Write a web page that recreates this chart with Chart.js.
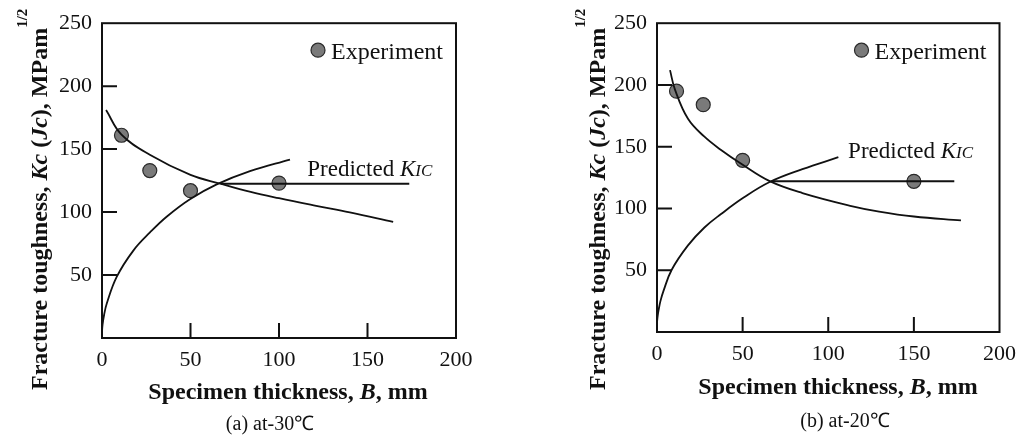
<!DOCTYPE html>
<html>
<head>
<meta charset="utf-8">
<script src="https://cdn.jsdelivr.net/npm/chart.js@4.4.1/dist/chart.umd.min.js"></script>
<style>
  body { margin: 0; background: #fff; }
  #wrap { position: relative; width: 1025px; height: 440px; }
  canvas { position: absolute; top: 0; }
</style>
</head>
<body>
<div id="wrap">
  <canvas id="chartA" width="512" height="440" style="left:0"></canvas>
  <canvas id="chartB" width="485" height="440" style="left:540px"></canvas>
</div>
<script>
const xTicks = [0, 50, 100, 150, 200];
const yTicks = [50, 100, 150, 200, 250];
const xMarks = [50, 100, 150];
const yMarks = [50, 100, 150, 200];

// (a) at -30C
const expA_B = [11, 27, 50, 100];
const expA_K = [161, 133, 117, 123];
const kcA_B = [2.3, 11, 27, 50, 67, 84, 100, 121, 140, 164.5];
const kcA_K = [181, 161.5, 145.5, 129.5, 122.5, 116, 111, 105, 99.8, 92.3];
const jcA_B = [0, 0.3, 1.2, 2.7, 8.3, 17.7, 27.1, 36.5, 49.7, 64.8, 83.6, 106.2];
const jcA_K = [5, 10.5, 18.5, 27.4, 48.5, 69.4, 83.8, 96.3, 110.2, 122, 132.5, 141.7];
const kicA_B = [67, 173.6];
const kicA_K = [122.5, 122.5];

// (b) at -20C
const expB_B = [11.4, 27, 50, 150];
const expB_K = [195, 184, 139, 122];
const kcB_B = [7.6, 10.5, 18.1, 27.7, 37.2, 49.6, 65.8, 84.9, 113.5, 129.7, 150, 177.5];
const kcB_K = [212, 196.2, 172.6, 158.1, 147.6, 135.8, 122.1, 112.5, 102, 97.5, 93.5, 90.3];
const jcB_B = [0, 0.4, 0.9, 2, 3.8, 8.6, 18.1, 27.7, 37.4, 50.6, 65.8, 84.9, 105.9];
const jcB_K = [8, 13, 17.5, 25, 33.3, 50.4, 70.1, 84.6, 95.5, 108.8, 121.4, 131.8, 141.5];
const kicB_B = [66.8, 173.6];
const kicB_K = [122, 122];

const SERIF = "'Liberation Serif', 'Times New Roman', serif";
const pts = (xs, ys) => xs.map((x, i) => ({ x, y: ys[i] }));

function drawRuns(ctx, runs, x, y) {
  let cx = x;
  runs.forEach(r => {
    ctx.font = r.font;
    ctx.fillText(r.text, cx, y + (r.dy || 0));
    cx += ctx.measureText(r.text).width;
  });
  return cx;
}

function runsWidth(ctx, runs) {
  let w = 0;
  runs.forEach(r => { ctx.font = r.font; w += ctx.measureText(r.text).width; });
  return w;
}

function dot(ctx, x, y) {
  ctx.beginPath();
  ctx.arc(x, y, 7, 0, Math.PI * 2);
  ctx.fillStyle = '#7a7a7a';
  ctx.fill();
  ctx.lineWidth = 1.2;
  ctx.strokeStyle = '#2a2a2a';
  ctx.stroke();
}

const decorPlugin = {
  id: 'decor',
  afterDraw(chart, args, o) {
    const { ctx, chartArea: a, scales: { x, y } } = chart;
    ctx.save();
    ctx.strokeStyle = '#111';
    ctx.lineWidth = 2;
    ctx.strokeRect(a.left, a.top, a.right - a.left, a.bottom - a.top);
    ctx.beginPath();
    xMarks.forEach(v => {
      const px = x.getPixelForValue(v);
      ctx.moveTo(px, a.bottom);
      ctx.lineTo(px, a.bottom - 15);
    });
    yMarks.forEach(v => {
      const py = y.getPixelForValue(v);
      ctx.moveTo(a.left, py);
      ctx.lineTo(a.left + 15, py);
    });
    ctx.stroke();

    ctx.fillStyle = '#111';
    ctx.textBaseline = 'alphabetic';

    // x title
    const xRuns = [
      { text: 'Specimen thickness, ', font: `bold 24px ${SERIF}` },
      { text: 'B', font: `italic bold 24px ${SERIF}` },
      { text: ', mm', font: `bold 24px ${SERIF}` }
    ];
    drawRuns(ctx, xRuns, o.xTitle[0] - runsWidth(ctx, xRuns) / 2, o.xTitle[1]);

    // y title
    ctx.save();
    ctx.translate(o.yTitle[0], o.yTitle[1]);
    ctx.rotate(-Math.PI / 2);
    drawRuns(ctx, [
      { text: 'Fracture toughness, ', font: `bold 24px ${SERIF}` },
      { text: 'Kc', font: `italic bold 24px ${SERIF}` },
      { text: ' (', font: `bold 24px ${SERIF}` },
      { text: 'Jc', font: `italic bold 24px ${SERIF}` },
      { text: '), MPam', font: `bold 24px ${SERIF}` },
      { text: '1/2', font: `bold 15px ${SERIF}`, dy: -20 }
    ], 0, 0);
    ctx.restore();

    // caption
    ctx.font = `20px ${SERIF}`;
    ctx.textAlign = 'center';
    ctx.fillText(o.caption, o.captionAt[0], o.captionAt[1]);
    ctx.textAlign = 'left';

    // legend
    const lx = a.right - 138, ly = a.top + 27;
    dot(ctx, lx, ly);
    ctx.fillStyle = '#111';
    ctx.font = `24px ${SERIF}`;
    ctx.fillText('Experiment', lx + 13, ly + 9);

    // predicted label
    drawRuns(ctx, [
      { text: 'Predicted ', font: `23px ${SERIF}` },
      { text: 'K', font: `italic 23px ${SERIF}` },
      { text: 'IC', font: `italic 17px ${SERIF}` }
    ], x.getPixelForValue(o.kicLabel[0]), y.getPixelForValue(o.kicLabel[1]));
    ctx.restore();
  }
};

function makePanel(id, p) {
  const canvas = document.getElementById(id);
  const W = canvas.width, H = canvas.height;
  const line = (data, w) => ({
    data, showLine: true, pointRadius: 0, borderColor: '#111',
    borderWidth: w, tension: 0.4, fill: false
  });
  return new Chart(canvas, {
    type: 'scatter',
    data: {
      datasets: [
        line(pts(p.kcB, p.kcK), 1.8),
        line(pts(p.jcB, p.jcK), 1.8),
        line(pts(p.kicB, p.kicK), 2),
        {
          data: pts(p.expB, p.expK), pointRadius: 7,
          backgroundColor: '#7a7a7a', borderColor: '#2a2a2a', borderWidth: 1.2
        }
      ]
    },
    options: {
      responsive: false,
      animation: false,
      devicePixelRatio: 1,
      layout: { padding: { left: 0, top: p.area.top, right: W - p.area.right, bottom: 0 } },
      plugins: {
        legend: { display: false },
        tooltip: { enabled: false },
        decor: p.decor
      },
      scales: {
        x: {
          type: 'linear', min: 0, max: 200,
          afterBuildTicks: s => { s.ticks = xTicks.map(v => ({ value: v })); },
          afterFit: s => { s.height = H - p.area.bottom; },
          grid: { display: false, drawTicks: false },
          border: { display: false },
          ticks: { color: '#111', padding: 9, maxRotation: 0, font: { family: SERIF, size: 22 } }
        },
        y: {
          type: 'linear', min: 0, max: 250,
          afterBuildTicks: s => { s.ticks = yTicks.map(v => ({ value: v })); },
          afterFit: s => { s.width = p.area.left; },
          grid: { display: false, drawTicks: false },
          border: { display: false },
          ticks: { color: '#111', padding: 10, font: { family: SERIF, size: 22 } }
        }
      }
    },
    plugins: [decorPlugin]
  });
}

makePanel('chartA', {
  area: { left: 102, right: 456, top: 21, bottom: 338 },
  expB: expA_B, expK: expA_K, kcB: kcA_B, kcK: kcA_K,
  jcB: jcA_B, jcK: jcA_K, kicB: kicA_B, kicK: kicA_K,
  decor: {
    xTitle: [288, 399], yTitle: [47, 390],
    caption: '(a) at-30\u2103', captionAt: [270, 430],
    kicLabel: [116, 128.5]
  }
});

makePanel('chartB', {
  area: { left: 117, right: 466, top: 15, bottom: 332 },
  expB: expB_B, expK: expB_K, kcB: kcB_B, kcK: kcB_K,
  jcB: jcB_B, jcK: jcB_K, kicB: kicB_B, kicK: kicB_K,
  decor: {
    xTitle: [298, 394], yTitle: [65, 390],
    caption: '(b) at-20\u2103', captionAt: [305, 427],
    kicLabel: [111.6, 141]
  }
});
</script>
</body>
</html>
